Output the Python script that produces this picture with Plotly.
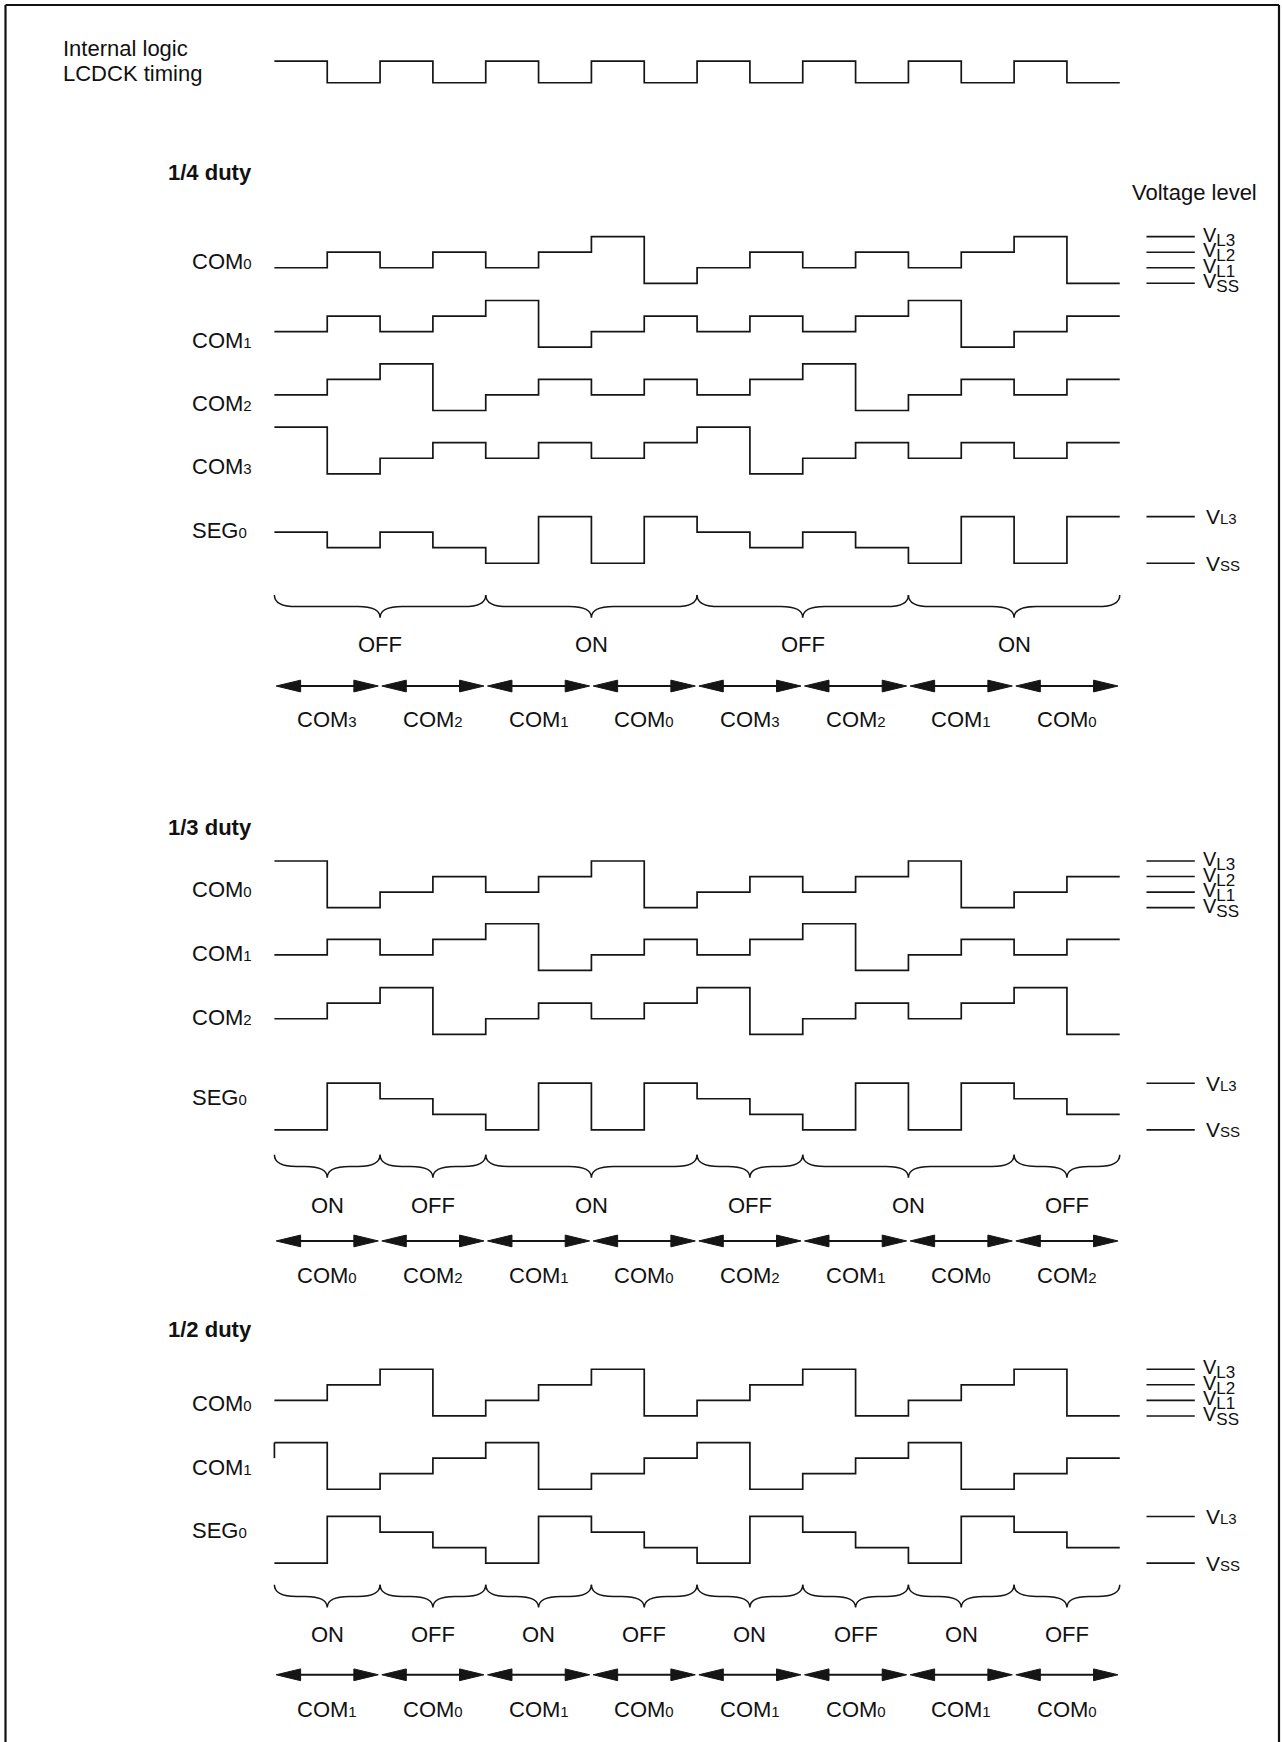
import plotly.graph_objects as go

# ---------------- data (levels: 0=VSS, 1=VL1, 2=VL2, 3=VL3) ----------------
CLOCK = [1, 0, 1, 0, 1, 0, 1, 0, 1, 0, 1, 0, 1, 0, 1, 0]

D4_COM0 = [1, 2, 1, 2, 1, 2, 3, 0, 1, 2, 1, 2, 1, 2, 3, 0]
D4_COM1 = [1, 2, 1, 2, 3, 0, 1, 2, 1, 2, 1, 2, 3, 0, 1, 2]
D4_COM2 = [1, 2, 3, 0, 1, 2, 1, 2, 1, 2, 3, 0, 1, 2, 1, 2]
D4_COM3 = [3, 0, 1, 2, 1, 2, 1, 2, 3, 0, 1, 2, 1, 2, 1, 2]
D4_SEG0 = [2, 1, 2, 1, 0, 3, 0, 3, 2, 1, 2, 1, 0, 3, 0, 3]
D4_STATES = ["OFF", "ON", "OFF", "ON"]
D4_STATE_SPANS = [(0, 4), (4, 8), (8, 12), (12, 16)]
D4_SLOTS = ["3", "2", "1", "0", "3", "2", "1", "0"]

D3_COM0 = [3, 0, 1, 2, 1, 2, 3, 0, 1, 2, 1, 2, 3, 0, 1, 2]
D3_COM1 = [1, 2, 1, 2, 3, 0, 1, 2, 1, 2, 3, 0, 1, 2, 1, 2]
D3_COM2 = [1, 2, 3, 0, 1, 2, 1, 2, 3, 0, 1, 2, 1, 2, 3, 0]
D3_SEG0 = [0, 3, 2, 1, 0, 3, 0, 3, 2, 1, 0, 3, 0, 3, 2, 1]
D3_STATES = ["ON", "OFF", "ON", "OFF", "ON", "OFF"]
D3_STATE_SPANS = [(0, 2), (2, 4), (4, 8), (8, 10), (10, 14), (14, 16)]
D3_SLOTS = ["0", "2", "1", "0", "2", "1", "0", "2"]

D2_COM0 = [1, 2, 3, 0, 1, 2, 3, 0, 1, 2, 3, 0, 1, 2, 3, 0]
D2_COM1 = [3, 0, 1, 2, 3, 0, 1, 2, 3, 0, 1, 2, 3, 0, 1, 2]
D2_SEG0 = [0, 3, 2, 1, 0, 3, 2, 1, 0, 3, 2, 1, 0, 3, 2, 1]
D2_STATES = ["ON", "OFF", "ON", "OFF", "ON", "OFF", "ON", "OFF"]
D2_STATE_SPANS = [(0, 2), (2, 4), (4, 6), (6, 8), (8, 10), (10, 12), (12, 14), (14, 16)]
D2_SLOTS = ["1", "0", "1", "0", "1", "0", "1", "0"]

COM_LEVEL_NAMES = ["L3", "L2", "L1", "SS"]
SEG_LEVEL_NAMES = ["L3", "SS"]

# ---------------- layout (drawing units ~ 0.9 px) ----------------
W, H = 1282, 1742
DW, DH = 1154.0, 1568.0
T0, DT = 247.0, 47.56           # x of t=0 and width of one half-clock
STEP = 14.0                      # vertical distance between voltage levels
FONT = "Liberation Sans, Arial, Helvetica, sans-serif"
INK = "#151515"


def tx(xd):
    return (xd - T0) / DT


fig = go.Figure()
shapes = []
annotations = []


def wave(levels, base, step=STEP, tick=None):
    xs = list(range(len(levels) + 1))
    ys = [base - step * v for v in levels] + [base - step * levels[-1]]
    if tick is not None:
        fig.add_trace(go.Scatter(x=[0, 0], y=[base - step * tick, ys[0]], mode="lines",
                                 line=dict(color=INK, width=1.7),
                                 hoverinfo="skip", showlegend=False))
    fig.add_trace(go.Scatter(x=xs, y=ys, mode="lines", line_shape="hv",
                             line=dict(color=INK, width=1.7),
                             hoverinfo="skip", showlegend=False))


def text(x, y, s, size=22, anchor="left"):
    annotations.append(dict(x=x, y=y, xref="x", yref="y", text=s, showarrow=False,
                            xanchor=anchor, yanchor="middle",
                            font=dict(family=FONT, size=size, color="#111"),
                            borderpad=0))


def sig_label(y, name, idx):
    text(tx(172), y, f"{name}<span style='font-size:15px'>{idx}</span>")


def brace(t0, t1, ytop):
    ym, yt = ytop + 10.5, ytop + 20.5
    r = 0.42
    tc = (t0 + t1) / 2
    p = (f"M {t0},{ytop} Q {t0},{ym} {t0 + r},{ym} L {tc - r},{ym} "
         f"Q {tc},{ym} {tc},{yt} Q {tc},{ym} {tc + r},{ym} L {t1 - r},{ym} "
         f"Q {t1},{ym} {t1},{ytop}")
    shapes.append(dict(type="path", path=p, xref="x", yref="y",
                       line=dict(color=INK, width=1.5)))


def double_arrow(t0, t1, y):
    g = 1.6 / DT
    a, b = t0 + g, t1 - g
    L, h = 22.0 / DT, 5.3
    shapes.append(dict(type="line", x0=a + L * 0.5, x1=b - L * 0.5, y0=y, y1=y,
                       xref="x", yref="y", line=dict(color=INK, width=2)))
    for tip, d in ((a, 1), (b, -1)):
        p = f"M {tip},{y} L {tip + d * L},{y - h} L {tip + d * L},{y + h} Z"
        shapes.append(dict(type="path", path=p, xref="x", yref="y",
                           fillcolor=INK, line=dict(color=INK, width=1)))


def level_marks(base, names, levels, size, stacked):
    for nm, lv in zip(names, levels):
        y = base - STEP * lv
        shapes.append(dict(type="line", x0=tx(1032), x1=tx(1075.5), y0=y, y1=y,
                           xref="x", yref="y", line=dict(color=INK, width=1.6)))
        if stacked:
            s = f"V<sub><span style='font-size:17px'>{nm}</span></sub>"
            text(tx(1082), y, s, size=size)
        else:
            s = f"V<span style='font-size:15px'>{nm}</span>"
            text(tx(1085), y, s, size=size)


def section(states, spans, slots, brace_top, state_y, arrow_y, slot_y):
    for st, (a, b) in zip(states, spans):
        brace(a, b, brace_top)
        text((a + b) / 2, state_y, st, anchor="center")
    for k, s in enumerate(slots):
        double_arrow(2 * k, 2 * k + 2, arrow_y)
        text(2 * k + 1, slot_y, f"COM<span style='font-size:15px'>{s}</span>", anchor="center")


# ---------------- header ----------------
text(tx(56), 44, "Internal logic")
text(tx(56), 66, "LCDCK timing")
wave(CLOCK, 74.5, step=19.5)

# ---------------- 1/4 duty ----------------
text(tx(150), 155, "<b>1/4 duty</b>")
text(tx(1018), 173, "Voltage level")
wave(D4_COM0, 255)
wave(D4_COM1, 312.5)
wave(D4_COM2, 369.5)
wave(D4_COM3, 426.5)
wave(D4_SEG0, 507)
sig_label(235, "COM", 0)
sig_label(306.5, "COM", 1)
sig_label(363, "COM", 2)
sig_label(419.5, "COM", 3)
sig_label(477.5, "SEG", 0)
level_marks(255, COM_LEVEL_NAMES, [3, 2, 1, 0], 20, True)
level_marks(507, SEG_LEVEL_NAMES, [3, 0], 21, False)
section(D4_STATES, D4_STATE_SPANS, D4_SLOTS, 535.5, 580.5, 617.5, 648)

# ---------------- 1/3 duty ----------------
text(tx(150), 745, "<b>1/3 duty</b>")
wave(D3_COM0, 817)
wave(D3_COM1, 873.5)
wave(D3_COM2, 931)
wave(D3_SEG0, 1017)
sig_label(801, "COM", 0)
sig_label(858, "COM", 1)
sig_label(916, "COM", 2)
sig_label(988, "SEG", 0)
level_marks(817, COM_LEVEL_NAMES, [3, 2, 1, 0], 20, True)
level_marks(1017, SEG_LEVEL_NAMES, [3, 0], 21, False)
section(D3_STATES, D3_STATE_SPANS, D3_SLOTS, 1039.5, 1085, 1117, 1148)

# ---------------- 1/2 duty ----------------
text(tx(150), 1197, "<b>1/2 duty</b>")
wave(D2_COM0, 1274.5)
wave(D2_COM1, 1340.5, tick=2)
wave(D2_SEG0, 1407)
sig_label(1263, "COM", 0)
sig_label(1320.5, "COM", 1)
sig_label(1378, "SEG", 0)
level_marks(1274.5, COM_LEVEL_NAMES, [3, 2, 1, 0], 20, True)
level_marks(1407, SEG_LEVEL_NAMES, [3, 0], 21, False)
section(D2_STATES, D2_STATE_SPANS, D2_SLOTS, 1426.5, 1471.5, 1507.5, 1539)

# ---------------- frame ----------------
for x0, y0, x1, y1 in ((5.5 / W, 0, 5.5 / W, 1 - 5 / H),
                       (5.5 / W, 1 - 5 / H, 1279 / W, 1 - 5 / H),
                       (1279 / W, 1 - 5 / H, 1279 / W, 0)):
    shapes.append(dict(type="line", xref="paper", yref="paper", x0=x0, y0=y0,
                       x1=x1, y1=y1, line=dict(color="#111", width=2.2)))

fig.update_layout(
    width=W, height=H, margin=dict(l=0, r=0, t=0, b=0),
    paper_bgcolor="white", plot_bgcolor="white",
    xaxis=dict(range=[tx(0), tx(DW)], visible=False, fixedrange=True),
    yaxis=dict(range=[DH, 0], visible=False, fixedrange=True),
    shapes=shapes, annotations=annotations, showlegend=False,
    hovermode=False, dragmode=False,
)

fig.write_html("out.html", config={"displayModeBar": False},
               post_script="document.body.style.margin='0';document.body.style.padding='0';"
                           "document.body.style.overflow='hidden';")
